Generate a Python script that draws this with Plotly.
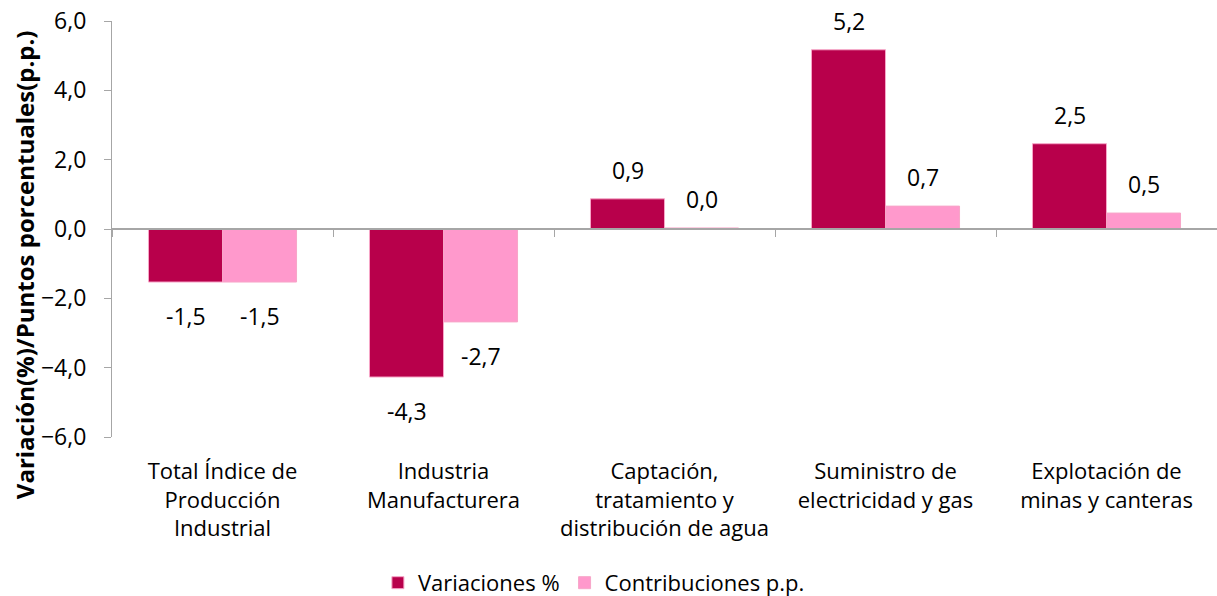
import plotly.graph_objects as go

categories = [
    "Total Índice de<br>Producción<br>Industrial",
    "Industria<br>Manufacturera",
    "Captación,<br>tratamiento y<br>distribución de agua",
    "Suministro de<br>electricidad y gas",
    "Explotación de<br>minas y canteras",
]
variaciones = [-1.53, -4.27, 0.87, 5.17, 2.46]
contribuciones = [-1.53, -2.68, 0.03, 0.66, 0.46]
series_names = ["Variaciones %", "Contribuciones p.p."]
y_ticks = [-6, -4, -2, 0, 2, 4, 6]
y_title = "Variación(%)/Puntos porcentuales(p.p.)"

FONT = "Open Sans"
C1 = "#B8004B"
C2 = "#FF99CC"
GRAY = "#A6A6A6"

fig = go.Figure()
fig.add_trace(go.Bar(x=categories, y=variaciones, name=series_names[0],
                     marker=dict(color=C1, line=dict(color="#F7A6C8", width=1)),
                     hoverinfo="skip"))
fig.add_trace(go.Bar(x=categories, y=contribuciones, name=series_names[1],
                     marker=dict(color=C2, line=dict(color="#F7A6C8", width=1)),
                     hoverinfo="skip"))
# invisible trace carrying the bottom category labels
fig.add_trace(go.Scatter(x=categories, y=[None] * len(categories), xaxis="x2",
                         showlegend=False, hoverinfo="skip", mode="markers"))

annotations = []
for vals, xs in ((variaciones, -37), (contribuciones, 37)):
    for c, v in zip(categories, vals):
        annotations.append(dict(
            x=c, y=v, xref="x", yref="y", text=f"{v:.1f}".replace(".", ","),
            showarrow=False, xshift=xs, yshift=29 if v >= 0 else -34,
            xanchor="center", yanchor="middle",
            font=dict(family=FONT, size=23, color="#000000")))
annotations.append(dict(
    x=0, y=0.413, xref="paper", yref="paper", xshift=-88,
    text=f"<b>{y_title}</b>", textangle=-90, showarrow=False,
    xanchor="center", yanchor="middle",
    font=dict(family=FONT, size=24, color="#000000")))

fig.update_layout(
    width=1217, height=596,
    margin=dict(l=112, r=0, t=21, b=159, autoexpand=False),
    paper_bgcolor="white", plot_bgcolor="white",
    barmode="group", bargap=0.33, bargroupgap=0,
    separators=",.",
    font=dict(family=FONT, size=22, color="#000000"),
    xaxis=dict(type="category", range=[-0.5, 4.5], anchor="free", position=0.5,
               showline=True, linecolor=GRAY, linewidth=1.5,
               ticks="outside", ticklen=7, tickcolor=GRAY, tickwidth=1.2,
               tickson="boundaries", showticklabels=False, showgrid=False,
               zeroline=False, automargin=False),
    xaxis2=dict(type="category", range=[-0.5, 4.5], overlaying="x", anchor="y",
                side="bottom", showline=False, ticks="", showgrid=False,
                tickfont=dict(family=FONT, size=22, color="#000000"),
                ticklabelstandoff=19, automargin=False),
    yaxis=dict(range=[-6, 6], tickvals=y_ticks, tickformat=".1f",
               showline=True, linecolor=GRAY, linewidth=1.2,
               ticks="outside", ticklen=7, tickcolor=GRAY, tickwidth=1.2,
               showgrid=False, zeroline=False, automargin=False,
               ticklabelstandoff=13, ticklabeloverflow="allow",
               tickfont=dict(family=FONT, size=23, color="#000000")),
    legend=dict(orientation="h", xref="container", yref="container",
                x=0.488, y=0.022, xanchor="center", yanchor="middle",
                font=dict(family=FONT, size=22, color="#000000"),
                itemwidth=30, traceorder="normal"),
    annotations=annotations,
)

fig.write_html("out.html",
               config={"displayModeBar": False},
               post_script="document.body.style.margin='0';"
                           "document.body.style.overflow='hidden';")
